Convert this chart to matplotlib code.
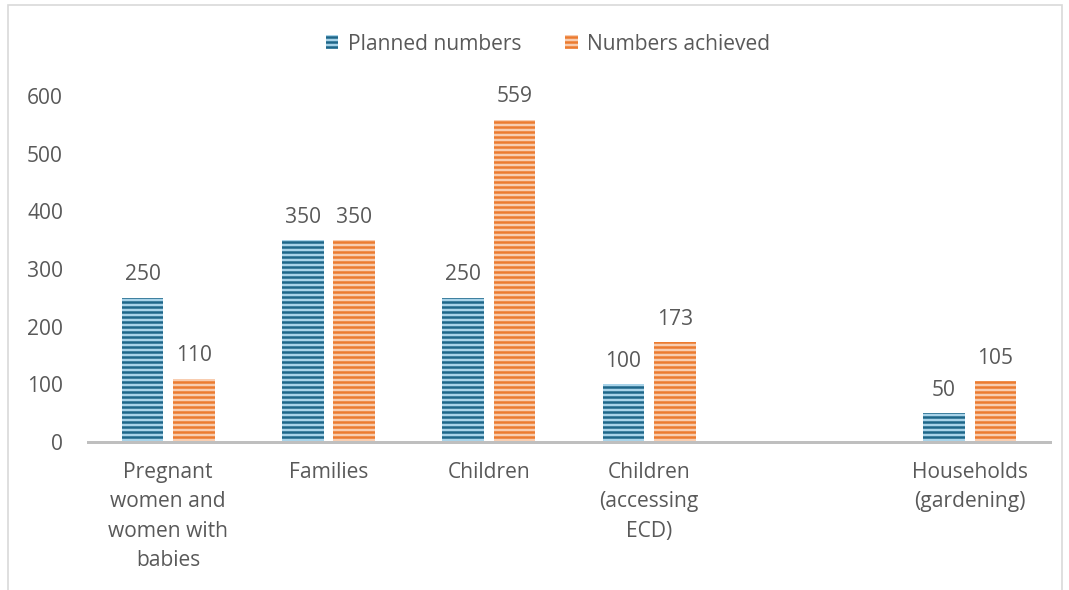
import numpy as np
import matplotlib
matplotlib.use("Agg")
import matplotlib.pyplot as plt
from matplotlib.patches import Rectangle

# Data
categories = [
    "Pregnant\nwomen and\nwomen with\nbabies",
    "Families",
    "Children",
    "Children\n(accessing\nECD)",
    "",
    "Households\n(gardening)",
]
planned = [250, 350, 250, 100, np.nan, 50]
achieved = [110, 350, 559, 173, np.nan, 105]
series_names = ["Planned numbers", "Numbers achieved"]
y_ticks = [0, 100, 200, 300, 400, 500, 600]

# Style
DPI = 120
W, H = 1069, 590
TEXT = "#595959"
BLUE_DARK, BLUE_LIGHT = "#1E6689", "#A8D3E9"
ORANGE_DARK, ORANGE_LIGHT = "#EC7B30", "#F8CDB0"
FONT = "Open Sans"

plt.rcParams["font.family"] = [FONT, "DejaVu Sans"]
plt.rcParams["hatch.linewidth"] = 1.5

fig = plt.figure(figsize=(W / DPI, H / DPI), dpi=DPI)
ax = fig.add_axes([88 / W, 1 - 442 / H, (1050 - 88) / W, (442 - 96) / H])

x = np.arange(len(categories))
bw = 0.26
off = 0.16

b1 = ax.bar(x - off, planned, bw, facecolor=BLUE_LIGHT, edgecolor=BLUE_DARK,
            linewidth=0, hatch="----", label=series_names[0])
b2 = ax.bar(x + off, achieved, bw, facecolor=ORANGE_LIGHT, edgecolor=ORANGE_DARK,
            linewidth=0, hatch="----", label=series_names[1])

fs = 12.6
for bars, vals in ((b1, planned), (b2, achieved)):
    for rect, v in zip(bars, vals):
        if np.isnan(v):
            continue
        ax.annotate(f"{v:g}", (rect.get_x() + rect.get_width() / 2, v),
                    xytext=(0, 10.5), textcoords="offset points",
                    ha="center", va="baseline", fontsize=fs, color=TEXT)

ax.set_xlim(-0.5, len(categories) - 0.5)
ax.set_ylim(0, 600)
ax.set_yticks(y_ticks)
ax.set_xticks(x)
ax.set_xticklabels(categories, fontsize=fs, color=TEXT, linespacing=1.52)
ax.tick_params(axis="y", length=0, pad=15, labelsize=fs, labelcolor=TEXT)
ax.tick_params(axis="x", length=0, pad=12)

for s in ("top", "right", "left"):
    ax.spines[s].set_visible(False)
ax.spines["bottom"].set_color("#BFBFBF")
ax.spines["bottom"].set_linewidth(1.8)

leg = fig.legend(handles=[b1, b2], loc="center",
                 bbox_to_anchor=(548 / W, 1 - 44 / H), ncol=2, frameon=False,
                 fontsize=fs, handlelength=0.6, handleheight=0.6,
                 handletextpad=0.45, columnspacing=2.1, labelcolor=TEXT)

# Chart area border
fig.patches.append(Rectangle((8 / W, -0.05), (1062 - 8) / W, 1.05 - 5 / H,
                             transform=fig.transFigure, fill=False,
                             edgecolor="#D9D9D9", linewidth=1.0))

fig.savefig("out.png", dpi=DPI)
